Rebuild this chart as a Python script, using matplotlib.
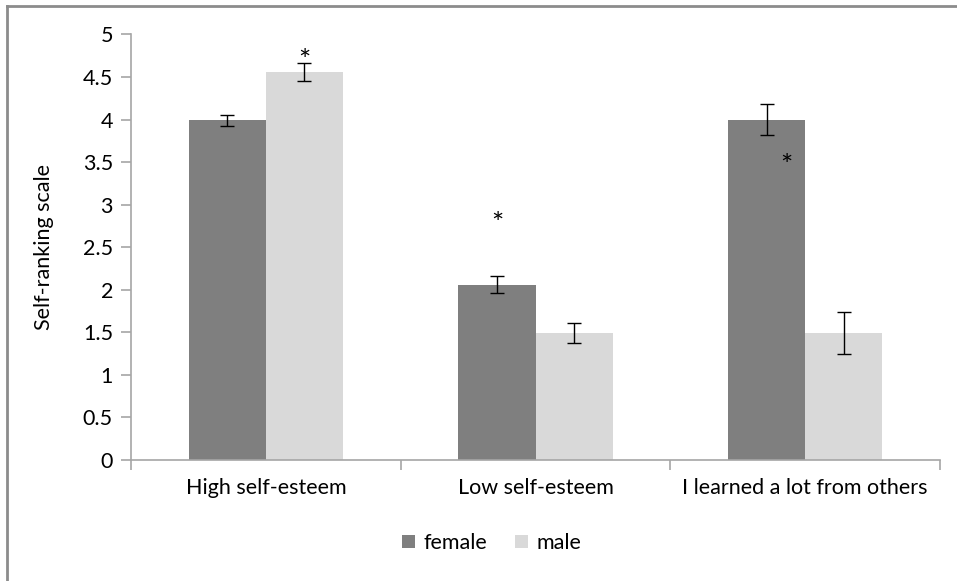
import numpy as np
import matplotlib
matplotlib.use("Agg")
import matplotlib.pyplot as plt
from matplotlib.lines import Line2D

plt.rcParams['font.family'] = ['Lato', 'DejaVu Sans']

# survey means and standard errors
categories = ['High self-esteem', 'Low self-esteem', 'I learned a lot from others']
female = [3.99, 2.06, 4.00]
female_err = [0.06, 0.10, 0.18]
male = [4.56, 1.49, 1.49]
male_err = [0.11, 0.12, 0.25]

# significance stars: (x in category units, y)
stars_x = [0.143, 0.857, 1.93]
stars_y = [4.79, 2.87, 3.55]

fs = 15.5

fig = plt.figure(figsize=(9.57, 5.81), dpi=100)
ax = fig.add_axes([131/957, 121/581, 809/957, 425.5/581])

x = np.arange(len(categories))
w = 0.286
ax.bar(x - w/2, female, w, color='#7f7f7f', label='female', zorder=2)
ax.bar(x + w/2, male, w, color='#d9d9d9', label='male', zorder=2)
ax.errorbar(x - w/2, female, yerr=female_err, fmt='none', ecolor='black',
            elinewidth=1, capsize=4.7, capthick=1, zorder=3)
ax.errorbar(x + w/2, male, yerr=male_err, fmt='none', ecolor='black',
            elinewidth=1, capsize=4.7, capthick=1, zorder=3)

for sx, sy in zip(stars_x, stars_y):
    ax.text(sx, sy - 0.11, '*', ha='center', va='center', fontsize=21)

ax.set_xlim(-0.5, len(categories) - 0.5)
ax.set_ylim(0, 5)
ax.set_yticks(np.arange(0, 5.01, 0.5))
ax.set_yticklabels(['0', '0.5', '1', '1.5', '2', '2.5', '3', '3.5', '4', '4.5', '5'])
ax.set_xticks(x)
ax.set_xticklabels(categories)
ax.set_xticks(np.arange(-0.5, len(categories)), minor=True)
ax.tick_params(axis='x', which='major', length=0, pad=13, labelsize=fs)
ax.tick_params(axis='x', which='minor', length=7, color='#a6a6a6', width=1.2)
ax.tick_params(axis='y', length=7, color='#a6a6a6', width=1.2, pad=6, labelsize=fs)

for side in ['top', 'right']:
    ax.spines[side].set_visible(False)
for side in ['left', 'bottom']:
    ax.spines[side].set_color('#a6a6a6')
    ax.spines[side].set_linewidth(1.2)

ax.set_ylabel('Self-ranking scale', fontsize=fs, labelpad=21)

ax.legend(loc='center', bbox_to_anchor=(492/957, 38/581), bbox_transform=fig.transFigure,
          ncol=2, frameon=False, fontsize=fs, handlelength=0.6, handleheight=0.6,
          handletextpad=0.4, columnspacing=1.3)

# chart-area frame (top and left edges)
fig.add_artist(Line2D([6.5/957, 6.5/957], [0, 1 - 6/581], color='#8c8c8c', lw=2))
fig.add_artist(Line2D([6.5/957, 1], [1 - 6/581, 1 - 6/581], color='#8c8c8c', lw=2))

fig.savefig('out.png', dpi=100)
